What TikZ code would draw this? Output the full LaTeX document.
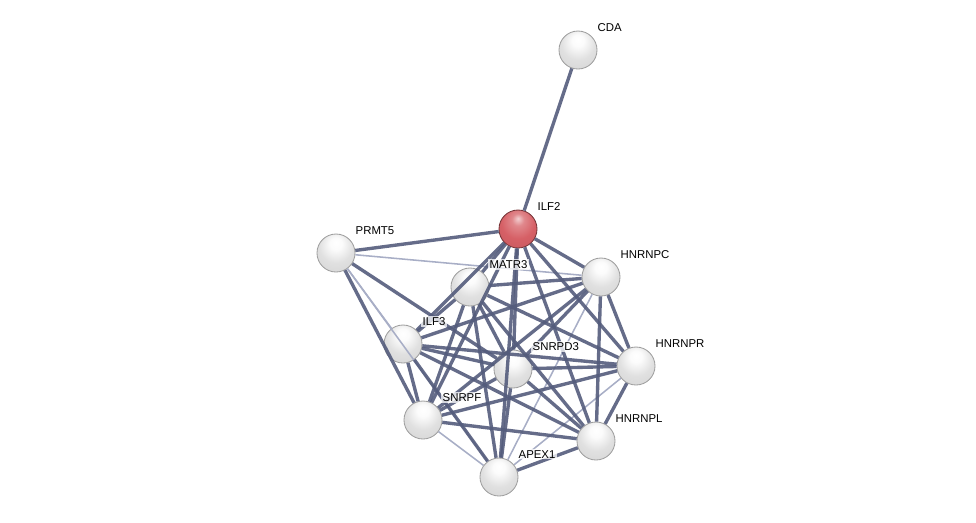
\documentclass[tikz,border=0pt]{standalone}
\usepackage{fontspec}
\setmainfont{Liberation Sans}
\usetikzlibrary{calc}

\definecolor{linkblue}{RGB}{84,92,124}
\definecolor{weakblue}{RGB}{168,174,198}
\definecolor{queryred}{RGB}{214,96,102}

\pgfdeclareradialshading{greysphere}{\pgfpoint{0bp}{14bp}}{%
    color(0bp)=(white); color(8bp)=(white!97!gray);
    color(22bp)=(gray!24); color(40bp)=(gray!34);
    color(54bp)=(gray!52); color(64bp)=(gray!68)}
\pgfdeclareradialshading{redsphere}{\pgfpoint{0bp}{14bp}}{%
    color(0bp)=(queryred!30!white); color(8bp)=(queryred!75!white);
    color(22bp)=(queryred); color(40bp)=(queryred!92!black);
    color(54bp)=(queryred!80!black); color(64bp)=(queryred!65!black)}

\begin{document}
\begin{tikzpicture}[
    x=0.025cm, y=-0.025cm,
    font=\fontsize{8.1}{9}\selectfont,
    protein/.style={
        circle,
        draw=gray!75,
        line width=0.6pt,
        shading=greysphere,
        minimum size=0.95cm,
        inner sep=0pt
    },
    query/.style={
        protein,
        draw=queryred!55!black,
        shading=redsphere
    },
    link/.style={
        linkblue,
        line width=2.4pt,
        opacity=0.9
    },
    weak/.style={
        weakblue,
        line width=1.1pt
    },
    tag/.style={
        anchor=base west,
        fill=white,
        fill opacity=0.75,
        text opacity=1,
        inner sep=1pt
    }
]
\useasboundingbox (0,0) rectangle (976,522);

% Proteins
\node[query] (ILF2) at (518,229) {};
\foreach \n/\x/\y in {CDA/578/50, PRMT5/336/253, MATR3/470/287,
    HNRNPC/601/277, ILF3/403/344, SNRPD3/513/369, HNRNPR/636/366,
    SNRPF/423/420, HNRNPL/596/441, APEX1/499/477}
    \node[protein] (\n) at (\x,\y) {};

% Weak associations
\foreach \a/\b in {PRMT5/HNRNPC, PRMT5/APEX1, SNRPF/APEX1,
    HNRNPC/APEX1, HNRNPR/APEX1, PRMT5/ILF3}
    \draw[weak] (\a) -- (\b);

% Strong associations
\foreach \a/\b in {CDA/ILF2, ILF2/PRMT5, ILF2/MATR3, ILF2/ILF3,
    ILF2/SNRPD3, ILF2/SNRPF, ILF2/HNRNPC, ILF2/HNRNPR, ILF2/HNRNPL,
    ILF2/APEX1, PRMT5/SNRPF, PRMT5/SNRPD3,
    MATR3/ILF3, MATR3/SNRPD3, MATR3/SNRPF, MATR3/HNRNPC,
    MATR3/HNRNPR, MATR3/HNRNPL, MATR3/APEX1,
    ILF3/SNRPF, ILF3/SNRPD3, ILF3/HNRNPC, ILF3/HNRNPR,
    ILF3/HNRNPL, ILF3/APEX1,
    SNRPD3/SNRPF, SNRPD3/HNRNPC, SNRPD3/HNRNPR, SNRPD3/HNRNPL,
    SNRPD3/APEX1,
    SNRPF/HNRNPR, SNRPF/HNRNPL, SNRPF/HNRNPC,
    HNRNPC/HNRNPR, HNRNPC/HNRNPL, HNRNPR/HNRNPL, HNRNPL/APEX1}
    \draw[link] (\a) -- (\b);

% Labels
\foreach \n in {CDA, ILF2, PRMT5, MATR3, HNRNPC, ILF3, SNRPD3,
    HNRNPR, SNRPF, HNRNPL, APEX1}
    \node[tag] (\n-lbl) at ($(\n)+(18,-19)$) {\n};

\end{tikzpicture}
\end{document}
